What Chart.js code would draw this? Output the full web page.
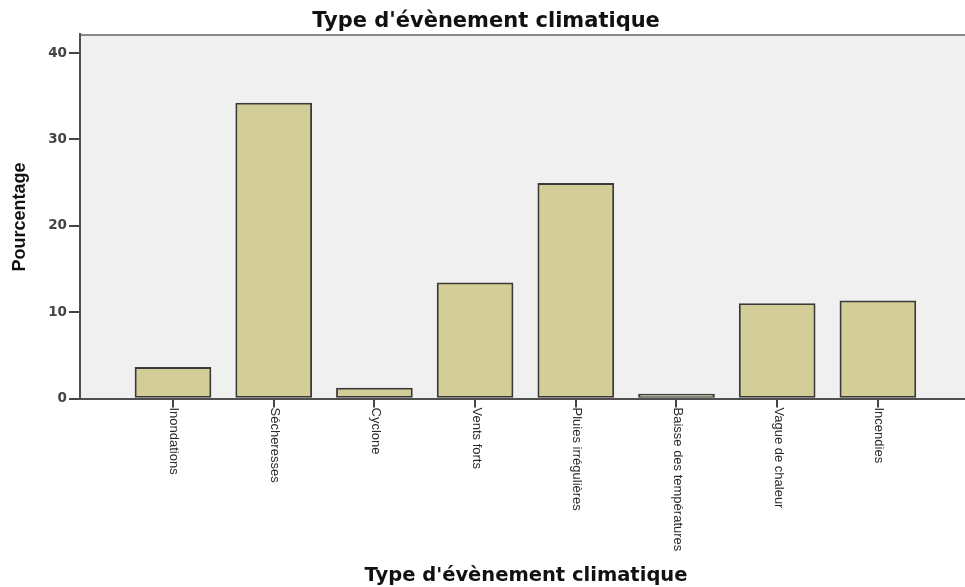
<!DOCTYPE html>
<html>
<head>
<meta charset="utf-8">
<script src="https://cdn.jsdelivr.net/npm/chart.js@4.4.0/dist/chart.umd.min.js"></script>
<style>
html,body{margin:0;padding:0;background:#fff;}
#wrap{width:965px;height:587px;position:relative;}
</style>
</head>
<body>
<div id="wrap"><canvas id="c" width="965" height="587"></canvas></div>
<script>
const categories = ["Inondations","Sécheresses","Cyclone","Vents forts","Pluies irrégulières","Baisse des températures","Vague de chaleur","Incendies"];
const percentages = [3.6, 34.2, 1.2, 13.4, 24.9, 0.5, 11.0, 11.3];
const yTicks = [0, 10, 20, 30, 40];
const chartTitle = "Type d'évènement climatique";
const xTitle = "Type d'évènement climatique";
const yTitle = "Pourcentage";

const decor = {
  id: 'decor',
  beforeDraw(chart) {
    const {ctx, chartArea: a} = chart;
    ctx.save();
    ctx.fillStyle = '#f0f0f0';
    ctx.fillRect(a.left, a.top, a.right - a.left, a.bottom - a.top);
    ctx.strokeStyle = '#888888';
    ctx.lineWidth = 2;
    ctx.beginPath();
    ctx.moveTo(a.left, a.top + 1);
    ctx.lineTo(a.right, a.top + 1);
    ctx.stroke();
    ctx.restore();
  },
  afterDraw(chart) {
    const {ctx, chartArea: a} = chart;
    const xs = chart.scales.x;
    ctx.save();
    ctx.fillStyle = '#2a2a2a';
    ctx.font = '13px "Liberation Sans", Arial, sans-serif';
    ctx.textAlign = 'left';
    ctx.textBaseline = 'middle';
    categories.forEach((lab, i) => {
      const px = xs.getPixelForValue(i);
      ctx.save();
      ctx.translate(px + 1, a.bottom + 9);
      ctx.rotate(Math.PI / 2);
      ctx.fillText(lab, 0, 0);
      ctx.restore();
    });
    ctx.fillStyle = '#111111';
    ctx.textAlign = 'center';
    ctx.textBaseline = 'alphabetic';
    ctx.font = 'bold 21px "DejaVu Sans", sans-serif';
    ctx.fillText(chartTitle, 486, 26.5);
    ctx.font = 'bold 19.5px "DejaVu Sans", sans-serif';
    ctx.fillText(xTitle, 526, 581);
    ctx.save();
    ctx.translate(20, 217);
    ctx.rotate(-Math.PI / 2);
    ctx.textBaseline = 'middle';
    ctx.font = 'bold 18px "Liberation Sans", Arial, sans-serif';
    ctx.fillText(yTitle, 0, 0);
    ctx.restore();
    ctx.restore();
  }
};

new Chart(document.getElementById('c'), {
  type: 'bar',
  data: {
    datasets: [{
      data: percentages.map((v, i) => ({x: i, y: v})),
      backgroundColor: '#d3ce97',
      borderColor: '#3a3a3a',
      borderWidth: 1.8,
      borderSkipped: false,
      barThickness: 76
    }]
  },
  options: {
    responsive: false,
    animation: false,
    devicePixelRatio: 1,
    layout: {padding: {top: 34, left: 0, right: 0, bottom: 0}},
    plugins: {legend: {display: false}, tooltip: {enabled: false}, title: {display: false}},
    scales: {
      x: {
        type: 'linear',
        offset: false,
        min: -0.9235,
        max: 7.865,
        afterBuildTicks: axis => { axis.ticks = categories.map((_, i) => ({value: i})); },
        afterFit: s => { s.height = 188.5; },
        ticks: {display: false},
        grid: {offset: false, drawOnChartArea: false, drawTicks: true, tickLength: 9, color: '#444444', lineWidth: 2},
        border: {display: true, color: '#505050', width: 2}
      },
      y: {
        min: 0,
        max: 42.2,
        afterBuildTicks: axis => { axis.ticks = yTicks.map(v => ({value: v})); },
        afterFit: s => { s.width = 80; },
        ticks: {
          padding: 2,
          color: '#444444',
          font: {family: '"DejaVu Sans", sans-serif', size: 13.5, weight: 'bold'}
        },
        grid: {drawOnChartArea: false, drawTicks: true, tickLength: 11, color: '#444444', lineWidth: 2},
        border: {display: true, color: '#505050', width: 2}
      }
    }
  },
  plugins: [decor]
});
</script>
</body>
</html>
